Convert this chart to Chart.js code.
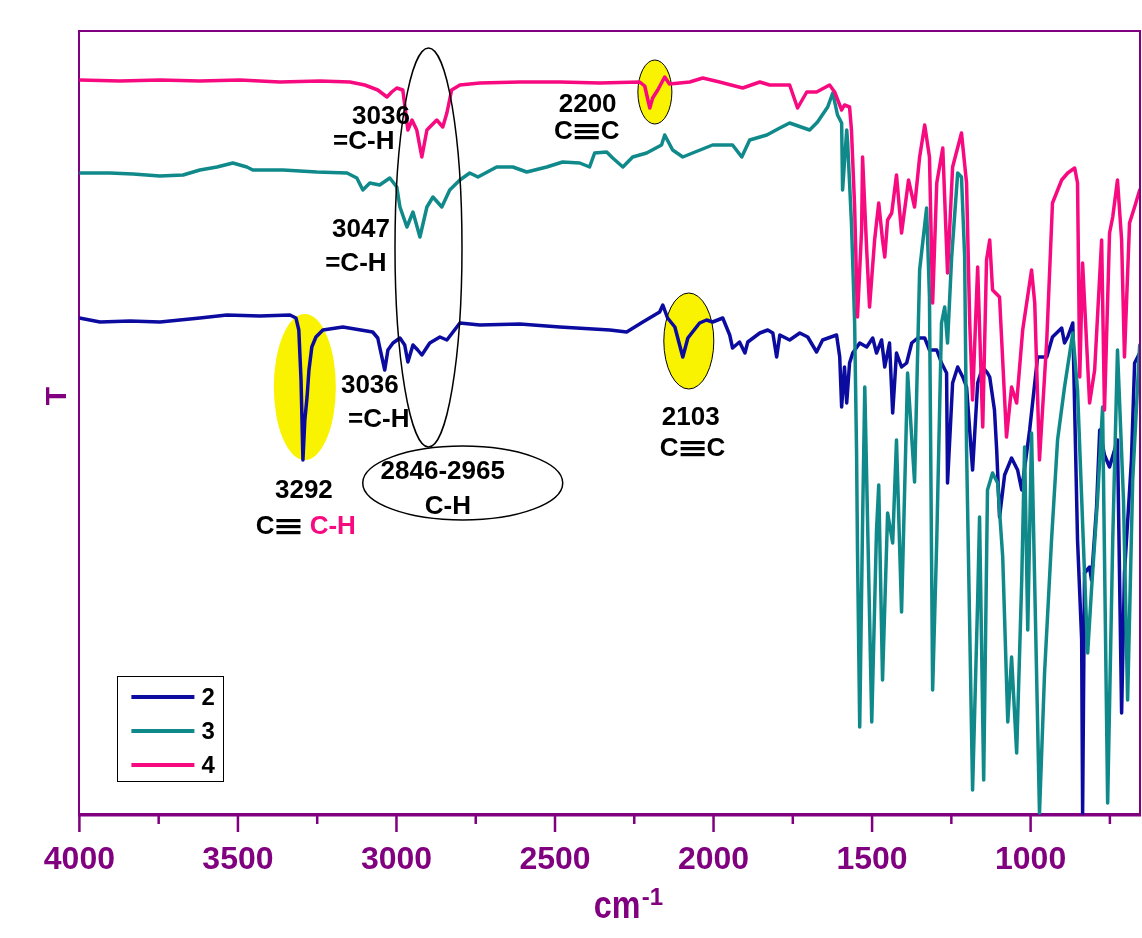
<!DOCTYPE html>
<html><head><meta charset="utf-8">
<script src="https://cdn.jsdelivr.net/npm/chart.js@4.4.0/dist/chart.umd.min.js"></script>
<style>html,body{margin:0;padding:0;background:#fff;}#wrap{width:1142px;height:938px;}</style>
</head><body><div id="wrap"><canvas id="c" width="1142" height="938"></canvas></div>
<script>
// ---- data (wavenumber in cm-1, transmittance in arbitrary units) ----
const seriesLabels = ['2', '3', '4'];
const seriesColors = ['#0B0BA0', '#10898A', '#F70A80'];
const xTickStep = 250;
const xMin = 655, xMax = 4000;

const wn2 = [4000,3935,3840,3746,3620,3535,3431,3336,3317,3308,3301,3295,3289,3282,3276,3267,3254,3232,3169,3075,3059,3053,3037,3027,3011,2989,2974,2964,2948,2933,2920,2895,2863,2841,2800,2737,2611,2485,2327,2274,2223,2170,2160,2145,2122,2107,2097,2081,2044,2022,2003,1971,1949,1940,1918,1901,1892,1854,1829,1813,1801,1791,1760,1728,1703,1675,1656,1612,1602,1596,1587,1580,1571,1561,1539,1517,1498,1486,1470,1460,1445,1435,1423,1407,1391,1375,1356,1334,1319,1296,1281,1265,1262,1246,1230,1214,1202,1183,1167,1151,1136,1129,1114,1107,1098,1082,1060,1041,1028,1003,978,949,931,902,893,883,867,852,839,836,830,814,808,792,782,767,751,726,713,704,682,672,656];
const t2 = [49.7,49.3,49.4,49.3,49.7,50.0,49.9,50.0,49.7,48.5,43.5,35.5,39.5,41.8,44.5,46.8,47.8,48.5,48.8,48.3,47.7,46.8,44.5,46.5,47.2,47.7,47.0,45.3,47.0,46.5,46.0,47.2,47.8,47.5,49.2,49.0,49.1,48.8,48.5,48.3,49.3,50.3,51.0,49.7,48.8,47.0,45.8,47.7,49.2,49.5,49.3,49.7,48.0,46.7,47.3,46.2,47.3,48.2,48.5,48.2,45.8,48.0,47.5,48.2,47.8,46.3,47.5,48.0,45.8,40.8,44.8,41.2,45.2,46.2,47.2,46.8,47.7,46.2,47.5,44.8,47.2,40.2,46.2,44.8,45.2,47.2,47.7,47.7,46.5,46.5,45.2,44.2,33.2,43.2,44.8,43.8,42.8,34.5,43.2,44.8,44.2,43.8,40.5,36.5,29.8,34.0,35.7,34.5,32.5,38.5,45.8,45.8,47.8,48.7,47.2,47.8,49.2,27.5,17.5,0.2,24.2,24.8,23.5,30.8,38.5,36.0,34.8,37.5,10.2,24.2,35.5,45.2,46.2];

const wn3 = [4000,3904,3831,3746,3673,3620,3566,3516,3472,3453,3358,3251,3156,3125,3106,3084,3053,3021,2999,2989,2967,2948,2926,2904,2885,2857,2832,2800,2769,2743,2684,2633,2589,2526,2476,2422,2391,2375,2337,2318,2286,2255,2211,2164,2154,2129,2097,2066,2003,1940,1911,1886,1832,1791,1760,1697,1672,1640,1624,1609,1596,1593,1580,1577,1565,1555,1549,1546,1539,1530,1523,1501,1486,1479,1467,1451,1435,1423,1407,1388,1366,1350,1328,1319,1309,1296,1281,1271,1262,1249,1230,1218,1208,1202,1183,1167,1161,1148,1136,1120,1104,1088,1072,1060,1044,1028,1019,1009,997,972,956,934,915,893,867,852,830,820,808,789,773,757,741,726,707,694,678,656];
const t3 = [64.2,64.2,64.1,63.9,64.0,64.5,64.8,65.2,64.8,64.5,64.5,64.3,64.2,63.7,62.5,63.2,63.0,63.7,62.8,60.8,58.8,60.3,57.8,60.8,61.8,60.8,62.5,63.5,64.2,63.8,64.8,64.8,64.3,64.8,65.3,65.2,64.8,66.2,66.3,65.7,64.8,65.8,66.2,67.0,68.0,66.5,65.8,66.2,67.0,67.0,65.8,67.5,68.0,68.7,69.2,68.5,69.3,70.8,72.2,70.0,69.2,62.5,68.5,67.2,59.2,49.2,36.5,26.5,8.8,29.2,42.8,9.3,28.5,33.0,13.5,30.2,27.2,37.5,20.3,44.2,33.3,54.5,60.7,51.8,12.5,27.5,49.2,50.8,47.2,55.8,64.2,63.8,55.8,36.5,2.5,21.5,29.8,3.5,32.5,34.2,33.2,25.8,9.3,15.8,6.2,23.5,36.8,18.5,38.2,0.2,14.2,27.5,37.5,42.8,48.2,42.5,24.2,16.2,22.5,31.5,40.8,1.2,27.5,46.5,31.5,11.5,33.5,47.0];

const wn4 = [4000,3872,3746,3620,3494,3368,3241,3147,3100,3059,3030,3015,2999,2980,2964,2951,2936,2920,2904,2873,2854,2841,2826,2800,2737,2611,2485,2359,2233,2217,2207,2201,2192,2176,2154,2139,2075,2034,1981,1908,1854,1823,1760,1735,1706,1675,1634,1618,1596,1587,1571,1565,1555,1546,1533,1530,1517,1508,1492,1479,1467,1460,1451,1438,1423,1407,1385,1366,1350,1334,1319,1309,1296,1277,1262,1246,1218,1202,1192,1183,1167,1151,1139,1129,1120,1098,1076,1060,1044,1025,997,987,972,949,931,902,883,861,852,845,836,814,798,776,767,751,741,726,713,704,688,672,656];
const t4 = [73.5,73.4,73.5,73.4,73.5,73.3,73.4,73.3,73.0,72.5,71.8,72.3,72.7,72.5,68.5,69.5,68.5,65.8,68.5,69.5,68.8,70.2,72.5,73.0,73.2,73.3,73.3,73.2,73.3,72.9,71.5,70.7,71.7,72.5,73.8,73.1,73.3,73.7,73.3,72.7,73.3,73.0,73.0,70.7,72.3,72.3,73.0,72.3,70.5,71.0,70.8,68.5,60.8,49.8,58.5,65.8,56.5,50.8,57.5,61.2,57.5,55.8,59.5,60.2,64.0,58.2,63.5,60.8,65.8,69.0,65.8,51.2,63.2,66.7,54.2,64.8,68.2,63.2,49.2,41.5,54.8,38.8,55.5,57.5,52.5,51.8,37.8,42.8,41.2,48.5,54.5,51.2,35.5,47.5,61.2,63.5,64.2,64.7,63.2,43.8,55.2,41.2,44.5,57.5,40.5,58.2,59.8,63.5,57.5,45.8,59.2,60.8,62.5];

// annotations anchored in data units
const noteTexts = [
  {wn: 3049, t: 69.8, text: '3036'},
  {wn: 3103, t: 67.3, text: '=C-H'},
  {wn: 3112, t: 58.5, text: '3047'},
  {wn: 3128, t: 55.1, text: '=C-H'},
  {wn: 2397, t: 71.0, text: '2200'},
  {wn: 2400, t: 68.3, text: 'C\u2261C'},
  {wn: 3292, t: 32.4, text: '3292'},
  {wn: 3084, t: 42.9, text: '3036'},
  {wn: 3056, t: 39.5, text: '=C-H'},
  {wn: 2854, t: 34.3, text: '2846-2965'},
  {wn: 2838, t: 30.8, text: 'C-H'},
  {wn: 2072, t: 39.7, text: '2103'},
  {wn: 2066, t: 36.6, text: 'C\u2261C'}
];
const alkyneCH = {wn: 3286, t: 28.8, parts: ['C\u2261 ', 'C-H']};
const ellipses = [
  {wn: 3289, t: 42.8, rx: 31, ry: 73, fill: true, stroke: false},
  {wn: 2185, t: 72.3, rx: 17, ry: 32, fill: true, stroke: true},
  {wn: 2078, t: 47.4, rx: 25, ry: 48, fill: true, stroke: true},
  {wn: 2899, t: 56.75, rx: 33.5, ry: 199.5, fill: false, stroke: true},
  {wn: 2791, t: 33.2, rx: 100, ry: 37, fill: false, stroke: true}
];

const PURPLE = '#80007F';
const FONT = '"Liberation Sans", Arial, "DejaVu Sans", sans-serif';
const BAR_W = 24, BAR_GAP = 2;

function pts(w, t) { return w.map((v, i) => ({x: v, y: t[i]})); }

// text width where '≡' is drawn as three bars
function richWidth(ctx, s) {
  return s.split('\u2261').reduce((acc, seg, i) => acc + ctx.measureText(seg).width + (i > 0 ? BAR_W + 2 * BAR_GAP : 0), 0);
}
function richDraw(ctx, s, x, y) {
  const segs = s.split('\u2261');
  let cx = x;
  segs.forEach((seg, i) => {
    if (i > 0) {
      const bx = cx + BAR_GAP;
      [-6.5, -0.5, 5.5].forEach(dy => ctx.fillRect(bx, y + dy - 1.5, BAR_W, 3.2));
      cx += BAR_W + 2 * BAR_GAP;
    }
    ctx.fillText(seg, cx, y);
    cx += ctx.measureText(seg).width;
  });
}

const overlay = {
  id: 'overlay',
  beforeDatasetsDraw(chart) {
    const {ctx, scales: {x, y}} = chart;
    ctx.save();
    ellipses.filter(e => e.fill).forEach(e => {
      ctx.beginPath();
      ctx.ellipse(x.getPixelForValue(e.wn), y.getPixelForValue(e.t), e.rx, e.ry, 0, 0, Math.PI * 2);
      ctx.fillStyle = '#F9F200';
      ctx.fill();
      if (e.stroke) { ctx.lineWidth = 1; ctx.strokeStyle = '#000'; ctx.stroke(); }
    });
    ctx.restore();
  },
  afterDatasetsDraw(chart) {
    const {ctx, scales: {x, y}} = chart;
    ctx.save();
    ellipses.filter(e => !e.fill).forEach(e => {
      ctx.beginPath();
      ctx.ellipse(x.getPixelForValue(e.wn), y.getPixelForValue(e.t), e.rx, e.ry, 0, 0, Math.PI * 2);
      ctx.lineWidth = 1.5; ctx.strokeStyle = '#000'; ctx.stroke();
    });
    ctx.font = 'bold 26px ' + FONT;
    ctx.textAlign = 'left';
    ctx.textBaseline = 'middle';
    ctx.fillStyle = '#000';
    noteTexts.forEach(n => {
      const w = richWidth(ctx, n.text);
      richDraw(ctx, n.text, x.getPixelForValue(n.wn) - w / 2, y.getPixelForValue(n.t));
    });
    const w0 = richWidth(ctx, alkyneCH.parts[0]);
    const w1 = richWidth(ctx, alkyneCH.parts[1]);
    const cx = x.getPixelForValue(alkyneCH.wn) - (w0 + w1) / 2, cy = y.getPixelForValue(alkyneCH.t);
    ctx.fillStyle = '#000';
    richDraw(ctx, alkyneCH.parts[0], cx, cy);
    ctx.fillStyle = seriesColors[2];
    richDraw(ctx, alkyneCH.parts[1], cx + w0, cy);
    ctx.restore();
  },
  afterDraw(chart) {
    const {ctx, chartArea: a, scales: {x}} = chart;
    ctx.save();
    ctx.strokeStyle = PURPLE;
    ctx.lineWidth = 2;
    ctx.beginPath();
    ctx.moveTo(a.left - 1, a.top); ctx.lineTo(a.right, a.top); ctx.lineTo(a.right, a.bottom);
    ctx.stroke();
    ctx.lineWidth = 2.5;
    x.ticks.forEach(tk => {
      const px = x.getPixelForValue(tk.value);
      const len = tk.value % 500 === 0 ? 17 : 9;
      ctx.beginPath(); ctx.moveTo(px, a.bottom); ctx.lineTo(px, a.bottom + len); ctx.stroke();
    });
    ctx.fillStyle = PURPLE;
    ctx.save();
    ctx.translate(a.left - 22, a.top + (a.bottom - a.top) / 2 - 27);
    ctx.rotate(-Math.PI / 2);
    ctx.font = 'bold 30px ' + FONT;
    ctx.textAlign = 'center'; ctx.textBaseline = 'middle';
    ctx.fillText('T', 0, 0);
    ctx.restore();
    const midX = a.left + (a.right - a.left) / 2;
    ctx.save();
    ctx.translate(midX - 16, a.bottom + 103);
    ctx.scale(0.85, 1);
    ctx.font = 'bold 38px ' + FONT;
    ctx.textAlign = 'left'; ctx.textBaseline = 'alphabetic';
    ctx.fillText('cm', 0, 0);
    ctx.restore();
    ctx.font = 'bold 24px ' + FONT;
    ctx.textAlign = 'left'; ctx.textBaseline = 'alphabetic';
    ctx.fillText('-1', midX + 32, a.bottom + 90);
    const lx = a.left + 38, ly = a.top + 645;
    ctx.strokeStyle = '#000'; ctx.lineWidth = 1;
    ctx.strokeRect(Math.round(lx) + 0.5, Math.round(ly) + 0.5, 106, 105);
    ctx.font = 'bold 24px ' + FONT;
    ctx.textBaseline = 'middle';
    chart.data.datasets.forEach((ds, i) => {
      const yy = ly + 21 + i * 34;
      ctx.strokeStyle = ds.borderColor; ctx.lineWidth = 4; ctx.lineCap = 'butt';
      ctx.beginPath(); ctx.moveTo(lx + 14, yy); ctx.lineTo(lx + 77, yy); ctx.stroke();
      ctx.fillStyle = '#000';
      ctx.fillText(ds.label, lx + 84, yy + 1);
    });
    ctx.restore();
  }
};

new Chart(document.getElementById('c'), {
  type: 'line',
  data: {
    datasets: [
      {label: seriesLabels[0], data: pts(wn2, t2), borderColor: seriesColors[0], order: 3},
      {label: seriesLabels[1], data: pts(wn3, t3), borderColor: seriesColors[1], order: 2},
      {label: seriesLabels[2], data: pts(wn4, t4), borderColor: seriesColors[2], order: 1}
    ].map(d => Object.assign(d, {borderWidth: 3.5, pointRadius: 0, tension: 0, fill: false,
      borderJoinStyle: 'round', borderCapStyle: 'round'}))
  },
  options: {
    responsive: false, animation: false, devicePixelRatio: 1,
    layout: {padding: {top: 31, right: 2, left: 0, bottom: 0}},
    plugins: {legend: {display: false}, tooltip: {enabled: false}},
    scales: {
      x: {
        type: 'linear', reverse: true, min: xMin, max: xMax,
        grid: {display: false, drawTicks: false},
        border: {display: true, color: PURPLE, width: 3.5},
        ticks: {
          stepSize: xTickStep, includeBounds: false, autoSkip: false, maxRotation: 0,
          color: PURPLE, font: {family: FONT, size: 32, weight: 'bold'}, padding: 26,
          callback: v => (v % 500 === 0 ? String(v) : '')
        },
        afterFit: s => { s.height = 123; }
      },
      y: {
        type: 'linear', min: 0, max: 78.4,
        grid: {display: false, drawTicks: false},
        border: {display: true, color: PURPLE, width: 2},
        ticks: {display: false},
        afterFit: s => { s.width = 79.4; }
      }
    }
  },
  plugins: [overlay]
});
</script>
</body></html>
